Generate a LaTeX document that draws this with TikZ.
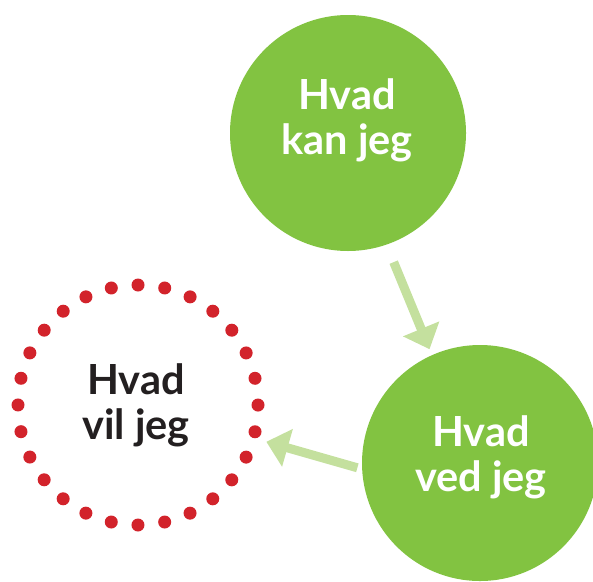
\documentclass[tikz,border=0pt]{standalone}
\usepackage{fontspec}
\setmainfont{Lato}
\usetikzlibrary{arrows.meta}
\definecolor{kangreen}{RGB}{130,195,65}
\definecolor{pilgreen}{RGB}{196,224,158}
\definecolor{dotred}{RGB}{210,35,43}
\definecolor{darktxt}{RGB}{35,31,32}
\begin{document}
\begin{tikzpicture}[x=1pt,y=-1pt,
  bubble/.style={circle,fill=kangreen,minimum size=236pt,inner sep=0pt,outer sep=0pt},
  dotring/.style={circle,draw=dotred,line width=13pt,line cap=round,dash pattern=on 0pt off 26.928pt,minimum size=240pt,inner sep=0pt,outer sep=0pt},
  txt/.style={align=center,font=\fontsize{41.5}{45}\selectfont\bfseries},
  pil/.style={draw=pilgreen,line width=9pt,-{Triangle[width=38pt,length=22pt]}}]
\useasboundingbox (0,0) rectangle (593,581);
\node[bubble] (kan) at (348,133) {};
\node[bubble] (ved) at (480,463) {};
\node[dotring] (vil) at (138,405) {};
\node[txt,text=white] (kantxt) at (347,120) {Hvad\\kan jeg};
\node[txt,text=white] (vedtxt) at (481,457) {Hvad\\ved jeg};
\node[txt,text=darktxt] (viltxt) at (136,405) {Hvad\\vil jeg};
\draw[pil,shorten <=19pt,shorten >=6.5pt] (kan.-71) -- (ved.114);
\draw[pil,shorten <=5pt,shorten >=13.5pt] (ved.183) -- (vil.-16.5);
\end{tikzpicture}
\end{document}
